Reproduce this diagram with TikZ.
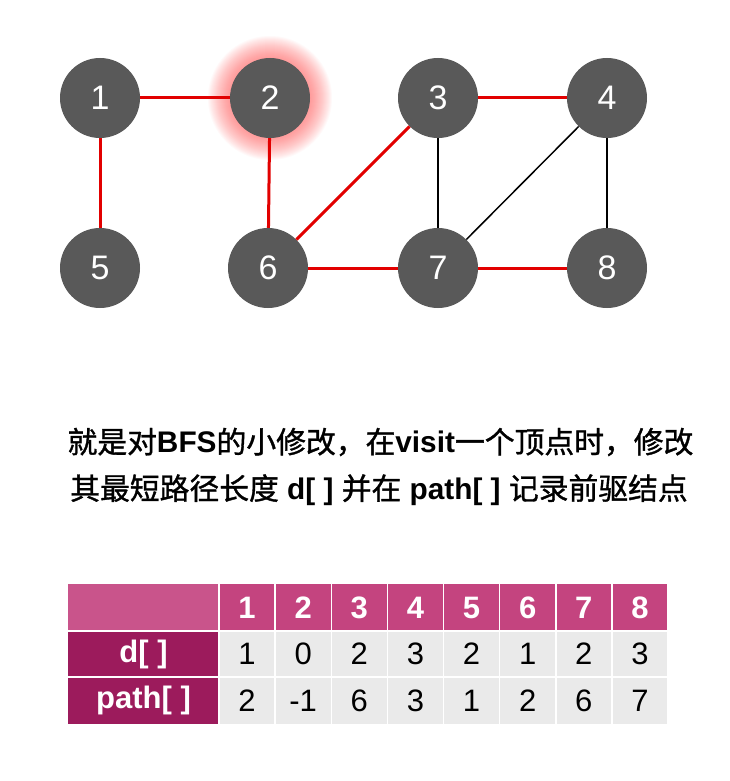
\documentclass[tikz,border=0pt]{standalone}
\usepackage{fontspec}
\setmainfont{Liberation Sans}
\newfontfamily\cjk{Noto Sans CJK SC}[FakeBold=1.2]
\usepackage{tikz}
\usetikzlibrary{calc,positioning}
\definecolor{nodegray}{RGB}{89,89,89}
\definecolor{edgered}{RGB}{226,0,0}
\definecolor{headpink}{RGB}{196,68,127}
\definecolor{cornerpink}{RGB}{201,84,139}
\definecolor{rowmagenta}{RGB}{156,27,92}
\definecolor{cellgray}{RGB}{234,234,234}
\newcommand{\zh}[1]{{\cjk #1}}

\begin{document}
\begin{tikzpicture}[x=1pt,y=-1pt,
    vertex/.style={circle,fill=nodegray,minimum size=80pt,inner sep=0,text=white,font=\fontsize{34}{38}\selectfont},
    treeedge/.style={edgered,line width=3pt},
    otheredge/.style={black,line width=1.5pt},
    cellbox/.style={draw=white,line width=1.5pt},
    cellnum/.style={font=\fontsize{31}{34}\selectfont},
    headnum/.style={text=white,font=\bfseries\fontsize{31}{34}\selectfont}]
  \useasboundingbox[fill=white] (0,0) rectangle (730,781);
  % glow around the visited vertex
  \coordinate (glow) at (270,98);
  \foreach \r in {40,...,62}
    \fill[red!70,opacity=0.03] (glow) circle[radius=\r pt];
  % vertices
  \node[vertex] (v1) at (100,98) {1};
  \node[vertex] (v2) at (270,98) {2};
  \node[vertex] (v3) at (438,98) {3};
  \node[vertex] (v4) at (607,98) {4};
  \node[vertex] (v5) at (100,268) {5};
  \node[vertex] (v6) at (268,268) {6};
  \node[vertex] (v7) at (438,268) {7};
  \node[vertex] (v8) at (607,268) {8};
  % edges
  \draw[treeedge] (v1) -- (v2);
  \draw[treeedge] (v1) -- (v5);
  \draw[treeedge] (v2) -- (v6);
  \draw[treeedge] (v6) -- (v3);
  \draw[treeedge] (v6) -- (v7);
  \draw[treeedge] (v3) -- (v4);
  \draw[treeedge] (v7) -- (v8);
  \draw[otheredge] (v3) -- (v7);
  \draw[otheredge] (v4) -- (v7);
  \draw[otheredge] (v4) -- (v8);
  % caption
  \node[font=\fontsize{29.8}{34}\selectfont] (line1) at (380.5,442)
    {\zh{就是对}\textbf{BFS}\zh{的小修改，在}\textbf{visit}\zh{一个顶点时，修改}};
  \node[font=\fontsize{29.8}{34}\selectfont] (line2) at (379,490)
    {\zh{其最短路径长度} \textbf{d[ ]} \zh{并在} \textbf{path[ ]} \zh{记录前驱结点}};
  % table
  \fill[cornerpink] (68,584) rectangle (219,631);
  \fill[rowmagenta] (68,631) rectangle (219,724);
  \fill[headpink] (219,584) rectangle (668,631);
  \fill[cellgray] (219,631) rectangle (668,724);
  \foreach \i in {0,...,8}
    \draw[cellbox] (219+56.125*\i,584) -- (219+56.125*\i,724);
  \draw[cellbox] (68,631) -- (668,631);
  \draw[cellbox] (68,677) -- (668,677);
  \node[headnum] (dlabel) at (143.5,654) {d[ ]};
  \node[headnum] (plabel) at (143.5,700.5) {path[ ]};
  \foreach \i/\d/\p [count=\k from 0] in {1/1/2,2/0/-1,3/2/6,4/3/3,5/2/1,6/1/2,7/2/6,8/3/7} {
    \node[headnum] (h\i) at (247+56.125*\k,607.5) {\i};
    \node[cellnum] (d\i) at (247+56.125*\k,654) {\d};
    \node[cellnum] (p\i) at (247+56.125*\k,700.5) {\p};
  }
\end{tikzpicture}
\end{document}
